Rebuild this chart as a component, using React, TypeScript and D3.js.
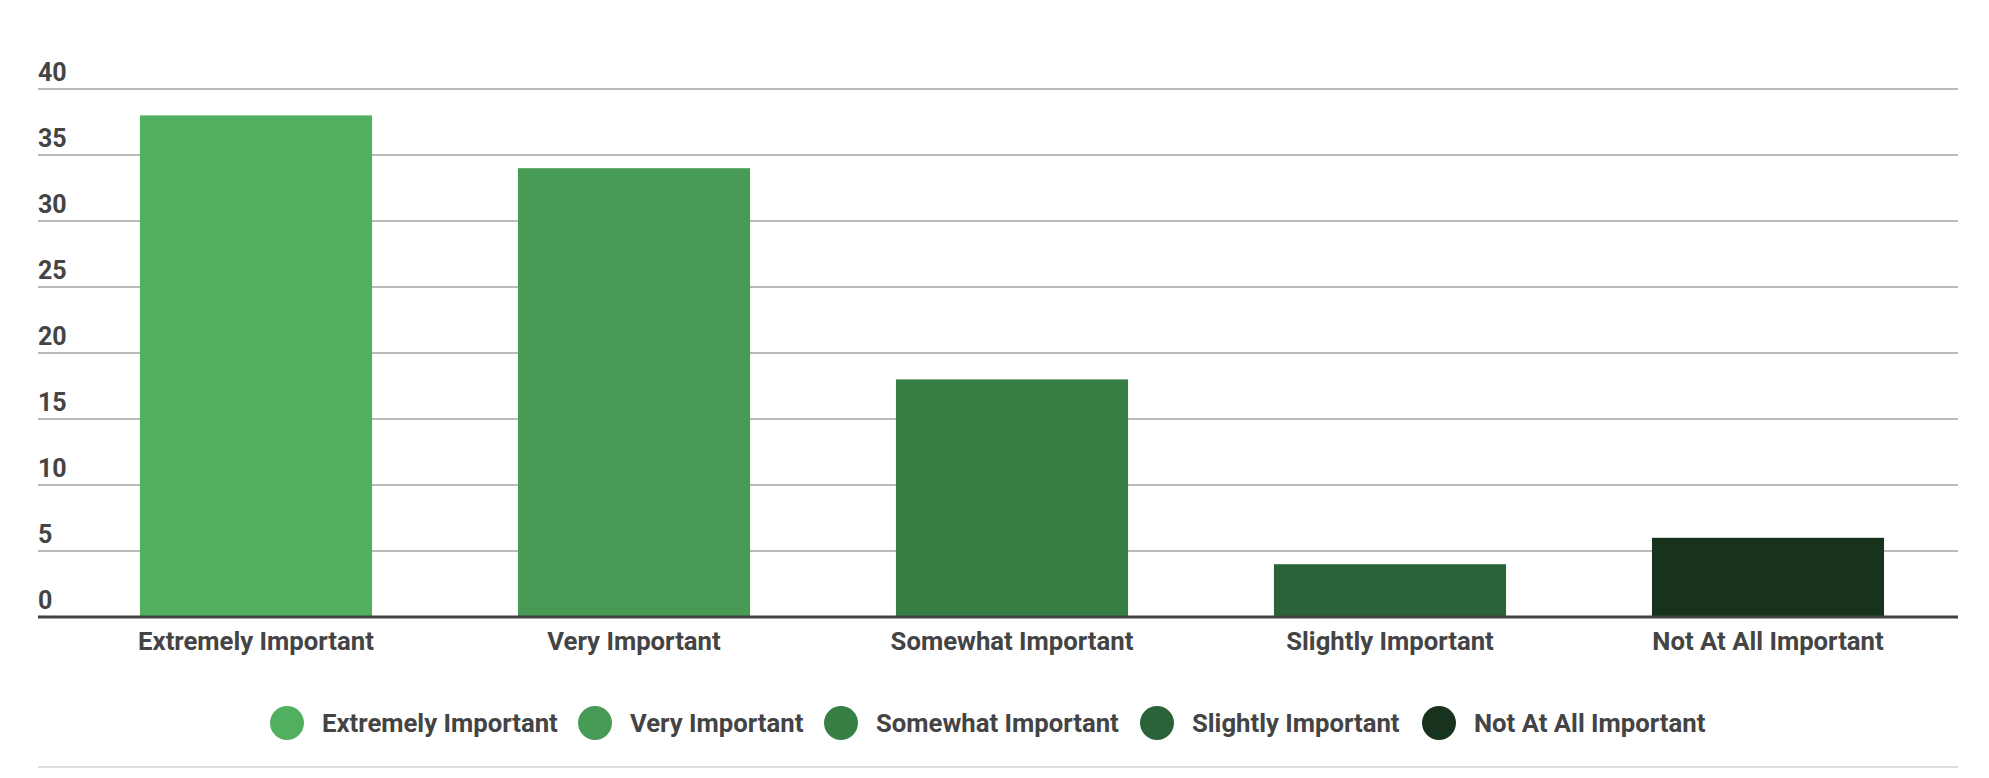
import React from "react";
import * as d3 from "d3";

const categories = ["Extremely Important", "Very Important", "Somewhat Important", "Slightly Important", "Not At All Important"];
const values = [38, 34, 18, 4, 6];
const colors = ["#51b060", "#479b54", "#387f46", "#2b6237", "#17331e"];
const yTicks = [0, 5, 10, 15, 20, 25, 30, 35, 40];

const W = 1989;
const H = 778;
const FONT = "Roboto, 'Noto Sans', sans-serif";
const TEXT = "#444444";

export default function App() {
  const x = d3.scaleBand<string>().domain(categories).range([67, 1957]).paddingInner(0.386).paddingOuter(0.193);
  const y = d3.scaleLinear().domain([0, 40]).range([617, 89]);
  const gridLeft = 38;
  const gridRight = 1958;

  const legendX = [287, 595, 841, 1157, 1439];
  const legendY = 723;

  return (
    <svg width={W} height={H} style={{ position: "absolute", left: 0, top: 0, background: "#fff" }} fontFamily={FONT}>
      {yTicks.filter((t) => t > 0).map((t) => (
        <line key={"g" + t} x1={gridLeft} x2={gridRight} y1={y(t)} y2={y(t)} stroke="#a3a3a3" strokeWidth={1.6} />
      ))}
      {yTicks.map((t) => (
        <text key={"t" + t} x={gridLeft} y={y(t) - 8} fontSize={25} fontWeight={700} fill={TEXT}>
          {t}
        </text>
      ))}
      {categories.map((c, i) => (
        <rect key={c} x={x(c)} width={x.bandwidth()} y={y(values[i])} height={y(0) - y(values[i])} fill={colors[i]} />
      ))}
      <line x1={gridLeft} x2={gridRight} y1={y(0)} y2={y(0)} stroke="#434343" strokeWidth={3} />
      {categories.map((c) => (
        <text key={"x" + c} x={(x(c) as number) + x.bandwidth() / 2} y={650} textAnchor="middle" fontSize={25.7} fontWeight={700} fill={TEXT}>
          {c}
        </text>
      ))}
      {categories.map((c, i) => (
        <g key={"l" + c}>
          <circle cx={legendX[i]} cy={legendY} r={17} fill={colors[i]} />
          <text x={legendX[i] + 35} y={legendY + 9} fontSize={25.7} fontWeight={700} fill={TEXT}>
            {c}
          </text>
        </g>
      ))}
      <line x1={gridLeft} x2={gridRight} y1={767} y2={767} stroke="#dcdcdc" strokeWidth={2} />
    </svg>
  );
}
